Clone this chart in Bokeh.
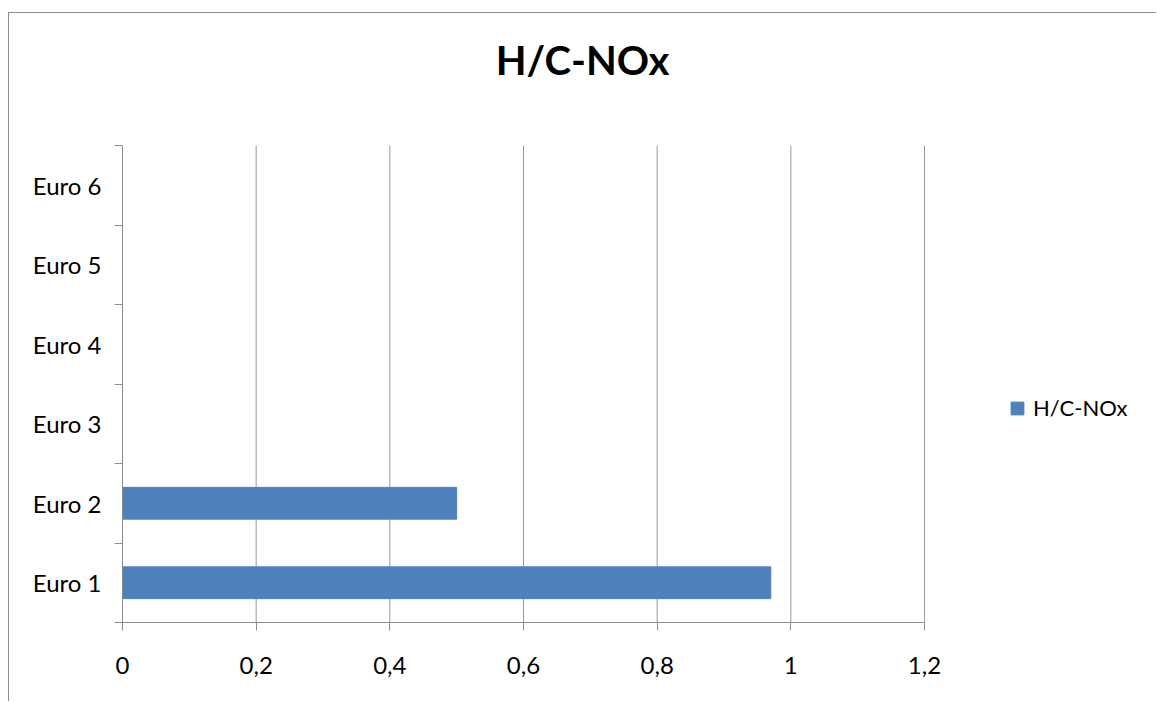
from bokeh.plotting import figure
from bokeh.models import (ColumnDataSource, Range1d, FixedTicker, CustomJSTickFormatter,
                          Legend, LegendItem, Label)
from bokeh.embed import file_html
from bokeh.resources import INLINE

# Emission limits per Euro standard
categories = ["Euro 1", "Euro 2", "Euro 3", "Euro 4", "Euro 5", "Euro 6"]
values = [0.97, 0.5, None, None, None, None]
series_name = "H/C-NOx"
x_ticks = [0, 0.2, 0.4, 0.6, 0.8, 1.0, 1.2]

GRAY = "#8c8c8c"
GRID = "#999999"
BAR = "#4f81bd"
FONT = "Lato"

# The frame fills the whole canvas to the right and top so the title and the
# legend can be drawn inside it; the axes stop at the data extent.
AXIS_W, FRAME_W = 802, 1035      # pixel width of value axis / whole frame
AXIS_H, FRAME_H = 477, 609       # pixel height of category axis / whole frame
x_max = x_ticks[-1] * FRAME_W / AXIS_W
y_max = len(categories) * FRAME_H / AXIS_H

y_pos = [i + 0.5 for i in range(len(categories))]
right = [v if v is not None else float("nan") for v in values]
source = ColumnDataSource(dict(y=y_pos, right=right, cat=categories))

p = figure(width=1148, height=689,
           x_range=Range1d(x_ticks[0], x_max), y_range=Range1d(0, y_max),
           output_backend="svg", toolbar_location=None,
           min_border_left=113, min_border_top=0, min_border_right=0,
           min_border_bottom=80)
p.margin = (12, 0, 0, 8)
p.styles = {"border-left": f"1px solid {GRAY}", "border-top": f"1px solid {GRAY}"}
p.outline_line_color = None
p.background_fill_color = "white"
p.border_fill_color = "white"
p.xgrid.visible = False
p.ygrid.visible = False

# vertical gridlines at each value tick, spanning the category bands
n = len(categories)
p.segment(x0=x_ticks, y0=[0] * len(x_ticks), x1=x_ticks, y1=[n] * len(x_ticks),
          line_color=GRID, line_width=1)

bars = p.hbar(y="y", right="right", left=0, height=0.4, source=source,
              fill_color=BAR, line_color=BAR)

# chart title
p.add_layout(Label(x=460, y=563, x_units="screen", y_units="screen",
                   text=series_name, text_align="center", text_baseline="alphabetic",
                   text_font=FONT, text_font_size="40px", text_font_style="bold",
                   text_color="black"))

# x axis
p.xaxis.ticker = FixedTicker(ticks=x_ticks, minor_ticks=[])
p.xaxis.bounds = (x_ticks[0], x_ticks[-1])
p.xaxis.formatter = CustomJSTickFormatter(
    code="return (Math.round(tick*10)/10).toString().replace('.', ',');")
p.xaxis.axis_line_color = GRAY
p.xaxis.major_tick_line_color = GRAY
p.xaxis.major_tick_out = 8
p.xaxis.major_tick_in = 0
p.xaxis.major_label_standoff = 26
p.xaxis.major_label_text_font = FONT
p.xaxis.major_label_text_font_size = "24px"
p.xaxis.major_label_text_color = "black"

# y axis: labels centred in each band, ticks on the band boundaries
p.yaxis.ticker = FixedTicker(ticks=y_pos, minor_ticks=list(range(n + 1)))
p.yaxis.bounds = (0, n)
p.yaxis.formatter = CustomJSTickFormatter(args=dict(labels=categories),
                                          code="return labels[Math.floor(tick)] ?? '';")
p.yaxis.axis_line_color = GRAY
p.yaxis.major_tick_line_color = None
p.yaxis.major_tick_out = 0
p.yaxis.major_tick_in = 0
p.yaxis.minor_tick_line_color = GRAY
p.yaxis.minor_tick_out = 8
p.yaxis.minor_tick_in = 0
p.yaxis.major_label_standoff = 13
p.yaxis.major_label_text_font = FONT
p.yaxis.major_label_text_font_size = "24px"
p.yaxis.major_label_text_color = "black"

legend = Legend(items=[LegendItem(label=series_name, renderers=[bars])],
                location=(887, 201), padding=0, margin=0, spacing=0,
                glyph_width=16, glyph_height=16, label_standoff=8,
                label_text_font=FONT, label_text_font_size="22px",
                label_text_color="black",
                border_line_color=None, background_fill_alpha=0)
p.add_layout(legend)

open("out.html", "w").write(file_html(p, INLINE))
